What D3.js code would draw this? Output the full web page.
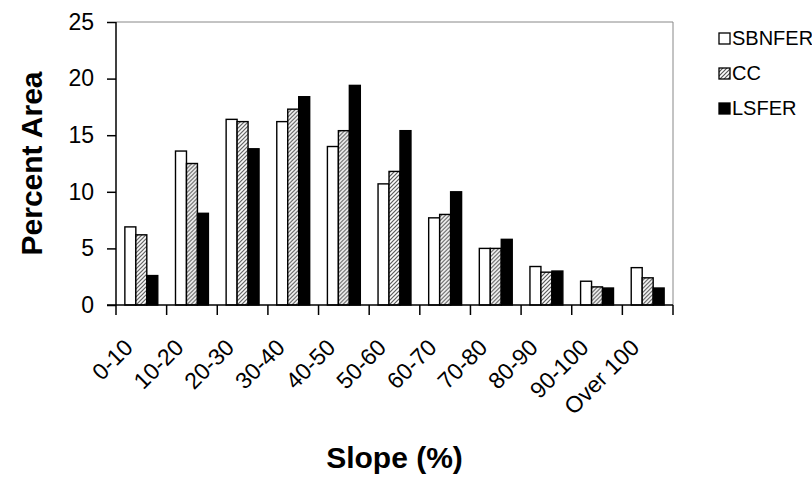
<!DOCTYPE html>
<html>
<head>
<meta charset="utf-8">
<script src="https://cdn.jsdelivr.net/npm/d3@7"></script>
<style>
  html, body { margin: 0; padding: 0; background: #fff; }
  text { font-family: "Liberation Sans", Arial, sans-serif; fill: #000; }
</style>
</head>
<body>
<svg id="chart" width="812" height="480"></svg>
<script>
const categories = ["0-10","10-20","20-30","30-40","40-50","50-60","60-70","70-80","80-90","90-100","Over 100"];
const seriesNames = ["SBNFER","CC","LSFER"];
const sbnfer = [6.9, 13.6, 16.4, 16.2, 14.0, 10.7, 7.7, 5.0, 3.4, 2.1, 3.3];
const cc     = [6.2, 12.5, 16.2, 17.3, 15.4, 11.8, 8.0, 5.0, 2.9, 1.6, 2.4];
const lsfer  = [2.6,  8.1, 13.8, 18.4, 19.4, 15.4, 10.0, 5.8, 3.0, 1.5, 1.5];
const yTicks = [0, 5, 10, 15, 20, 25];
const yTitle = "Percent Area";
const xTitle = "Slope (%)";

const seriesValues = [sbnfer, cc, lsfer];
const data = categories.map((c, i) => ({cat: c, vals: seriesNames.map((s, j) => ({key: s, value: seriesValues[j][i]}))}));

const svg = d3.select("#chart");
const L = 116, R = 673, T = 22, B = 305;

const defs = svg.append("defs");
const pat = defs.append("pattern").attr("id","hatch").attr("patternUnits","userSpaceOnUse")
  .attr("width",4).attr("height",4);
pat.append("rect").attr("width",4).attr("height",4).attr("fill","#fff");
pat.append("path").attr("d","M-1,1 l2,-2 M0,4 l4,-4 M3,5 l2,-2").attr("stroke","#555").attr("stroke-width",1.2);

const fills = {"SBNFER":"#fff","CC":"url(#hatch)","LSFER":"#000"};

const x0 = d3.scaleBand().domain(categories).range([L, R]).paddingInner(0.35).paddingOuter(0.175);
const x1 = d3.scaleBand().domain(seriesNames).range([0, x0.bandwidth()]);
const y = d3.scaleLinear().domain([0, 25]).range([B, T]);

// plot border (top & right)
svg.append("line").attr("x1",L).attr("x2",R).attr("y1",T).attr("y2",T).attr("stroke","#888").attr("stroke-width",1);
svg.append("line").attr("x1",R).attr("x2",R).attr("y1",T).attr("y2",B).attr("stroke","#888").attr("stroke-width",1);

// bars
const g = svg.append("g");
g.selectAll("g.grp").data(data).join("g").attr("class","grp")
  .attr("transform", d => `translate(${x0(d.cat)},0)`)
  .selectAll("rect").data(d => d.vals).join("rect")
  .attr("x", d => x1(d.key))
  .attr("width", x1.bandwidth())
  .attr("y", d => y(d.value))
  .attr("height", d => y(0) - y(d.value))
  .attr("fill", d => fills[d.key])
  .attr("stroke", "#000").attr("stroke-width", 1.4);

// y axis
const yAxis = d3.axisLeft(y).tickValues(yTicks).tickSize(9).tickPadding(13).tickFormat(d3.format("d"));
const ya = svg.append("g").attr("transform", `translate(${L},0)`).call(yAxis);
ya.select(".domain").attr("stroke","#000").attr("stroke-width",1.5).attr("d", `M0,${T}V${B}`);
ya.selectAll(".tick line").attr("stroke","#000").attr("stroke-width",1.5);
ya.selectAll(".tick text").attr("font-size","23px").attr("fill","#000").attr("font-family","Liberation Sans, Arial, sans-serif");

// x axis baseline & boundary ticks
svg.append("line").attr("x1",L-9).attr("x2",R).attr("y1",B).attr("y2",B).attr("stroke","#000").attr("stroke-width",1.5);
const step = x0.step();
const bounds = categories.map(c => x0(c) + x0.bandwidth()/2 - step/2).concat([x0(categories[categories.length-1]) + x0.bandwidth()/2 + step/2]);
svg.append("g").selectAll("line").data(bounds).join("line")
  .attr("x1", d => d).attr("x2", d => d).attr("y1", B).attr("y2", B + 10)
  .attr("stroke","#000").attr("stroke-width",1.5);

// x labels rotated
svg.append("g").selectAll("text").data(categories).join("text")
  .attr("transform", c => `translate(${x0(c) + x0.bandwidth()/2 - 7},${B + 44}) rotate(-45)`)
  .attr("text-anchor","end")
  .attr("font-size","23px")
  .text(c => c);

// axis titles
svg.append("text").attr("transform", `translate(42,${(T+B)/2}) rotate(-90)`)
  .attr("text-anchor","middle").attr("font-size","30px").attr("font-weight","bold").text(yTitle);
svg.append("text").attr("x", (L+R)/2).attr("y", 468)
  .attr("text-anchor","middle").attr("font-size","30px").attr("font-weight","bold").text(xTitle);

// legend
const leg = svg.append("g").selectAll("g").data(seriesNames).join("g")
  .attr("transform", (d,i) => `translate(719,${33 + i*35})`);
leg.append("rect").attr("width",11).attr("height",11)
  .attr("fill", d => fills[d]).attr("stroke","#000").attr("stroke-width",1.3);
leg.append("text").attr("x",13).attr("y",12).attr("font-size","20px").text(d => d);
</script>
</body>
</html>
